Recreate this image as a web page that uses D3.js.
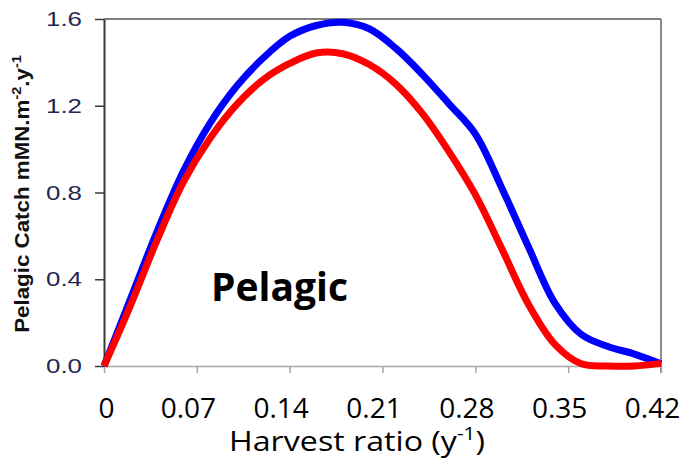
<!DOCTYPE html>
<html>
<head>
<meta charset="utf-8">
<script src="https://cdn.jsdelivr.net/npm/d3@7"></script>
<style>
  body { margin: 0; background: #fff; }
  svg { display: block; }
</style>
</head>
<body>
<div id="chart"></div>
<script>
// harvest ratio (x) and pelagic catch for the two runs
var harvest = [0, 0.02, 0.04, 0.06, 0.08, 0.10, 0.12, 0.14, 0.16, 0.18, 0.20,
               0.22, 0.24, 0.26, 0.28, 0.30, 0.32, 0.34, 0.36, 0.38, 0.40, 0.42];
var catchBlue = [0, 0.31, 0.62, 0.90, 1.12, 1.29, 1.42, 1.52, 1.57, 1.585, 1.555,
                 1.465, 1.345, 1.21, 1.07, 0.82, 0.55, 0.29, 0.145, 0.09, 0.055, 0.01];
var catchRed = [0, 0.28, 0.58, 0.85, 1.05, 1.205, 1.32, 1.395, 1.443, 1.44, 1.39,
                1.30, 1.165, 0.99, 0.79, 0.54, 0.285, 0.10, 0.01, 0, 0, 0.012];

var xTicks = [0, 0.07, 0.14, 0.21, 0.28, 0.35, 0.42];
var xTickLabels = ["0", "0.07", "0.14", "0.21", "0.28", "0.35", "0.42"];
var yTicks = [0, 0.4, 0.8, 1.2, 1.6];

var width = 686, height = 459;
var margin = { top: 19, right: 25, bottom: 93, left: 104 };

var svg = d3.select("#chart")
  .append("svg")
  .attr("width", width)
  .attr("height", height);

var x = d3.scaleLinear().domain([0, 0.42]).range([margin.left, width - margin.right]);
var y = d3.scaleLinear().domain([0, 1.6]).range([height - margin.bottom, margin.top]);

// frame: top and right border
svg.append("line")
  .attr("x1", x(0)).attr("x2", x(0.42))
  .attr("y1", y(1.6)).attr("y2", y(1.6))
  .attr("stroke", "#555").attr("stroke-width", 1.5);
svg.append("line")
  .attr("x1", x(0.42)).attr("x2", x(0.42))
  .attr("y1", y(1.6)).attr("y2", y(0) + 7)
  .attr("stroke", "#666").attr("stroke-width", 1.5);

// x axis
var xAxis = svg.append("g")
  .attr("transform", "translate(0," + y(0) + ")")
  .call(d3.axisBottom(x)
    .tickValues(xTicks)
    .tickSize(7)
    .tickSizeOuter(0)
    .tickFormat(function (d, i) { return xTickLabels[i]; }));
xAxis.select(".domain").attr("stroke", "#a6a6a6").attr("stroke-width", 1.5);
xAxis.selectAll(".tick line").attr("stroke", "#a6a6a6").attr("stroke-width", 1.5);
xAxis.selectAll(".tick text")
  .attr("dy", null)
  .attr("y", 52)
  .attr("x", function (d) { return d === 0 ? 2 : -9; })
  .attr("fill", "#000")
  .style("font-family", "'Open Sans', sans-serif")
  .style("font-size", "28px");

// y axis
var yAxis = svg.append("g")
  .attr("transform", "translate(" + x(0) + ",0)")
  .call(d3.axisLeft(y)
    .tickValues(yTicks)
    .tickSize(9)
    .tickSizeOuter(0)
    .tickPadding(13)
    .tickFormat(d3.format(".1f")));
yAxis.select(".domain").attr("stroke", "#3a3a3a").attr("stroke-width", 2);
yAxis.selectAll(".tick line").attr("stroke", "#3a3a3a").attr("stroke-width", 1.5);
yAxis.selectAll(".tick text")
  .attr("fill", "#1f2855")
  .attr("dy", "0.32em")
  .attr("textLength", 36)
  .attr("lengthAdjust", "spacingAndGlyphs")
  .style("font-family", "'Liberation Sans', Arial, sans-serif")
  .style("font-size", "21px");

// the two curves
var blueData = harvest.map(function (h, i) { return { h: h, c: catchBlue[i] }; });
var redData = harvest.map(function (h, i) { return { h: h, c: catchRed[i] }; });

var line = d3.line()
  .x(function (d) { return x(d.h); })
  .y(function (d) { return y(d.c); })
  .curve(d3.curveCatmullRom.alpha(0.5));

svg.append("path")
  .datum(blueData)
  .attr("fill", "none")
  .attr("stroke", "#0000ff")
  .attr("stroke-width", 7)
  .attr("d", line);

svg.append("path")
  .datum(redData)
  .attr("fill", "none")
  .attr("stroke", "#ff0000")
  .attr("stroke-width", 7)
  .attr("d", line);

// panel label
svg.append("text")
  .attr("x", 211)
  .attr("y", 301)
  .attr("fill", "#000")
  .style("font-family", "'Open Sans', sans-serif")
  .style("font-weight", "bold")
  .style("font-size", "39px")
  .text("Pelagic");

// x title, stretched to the width seen in the picture
var xtG = svg.append("g")
  .attr("transform", "translate(229,451)");
var xt = xtG.append("text")
  .attr("fill", "#000")
  .style("font-family", "'Open Sans', sans-serif")
  .style("font-size", "28px");
xt.append("tspan").text("Harvest ratio (y");
xt.append("tspan").attr("dy", -11).style("font-size", "18px").text("-1");
xt.append("tspan").attr("dy", 11).text(")");
var xb = xt.node().getBBox();
xt.attr("transform", "scale(" + (256 / xb.width) + ",1)");

// y title, stretched to the length seen in the picture
var ytG = svg.append("g")
  .attr("transform", "translate(28.5,194) rotate(-90)");
var yt = ytG.append("text")
  .attr("text-anchor", "middle")
  .attr("fill", "#111")
  .style("font-family", "'Liberation Sans', Arial, sans-serif")
  .style("font-weight", "bold")
  .style("font-size", "20px");
yt.append("tspan").text("Pelagic Catch mMN.m");
yt.append("tspan").attr("dy", -8).style("font-size", "13px").text("-2");
yt.append("tspan").attr("dy", 8).text(".y");
yt.append("tspan").attr("dy", -8).style("font-size", "13px").text("-1");
var bb = yt.node().getBBox();
yt.attr("transform", "scale(" + (278 / bb.width) + ",1)");
</script>
</body>
</html>
